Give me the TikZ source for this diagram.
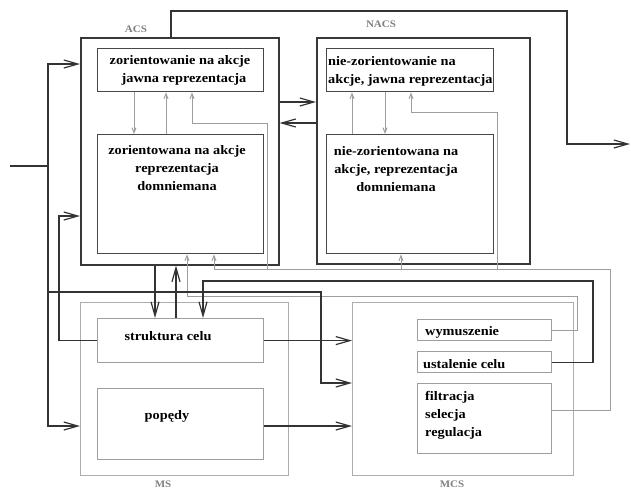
\documentclass[tikz,border=0pt]{standalone}
\usepackage{fontspec}
\setmainfont{Liberation Serif}[FakeStretch=1.1]
\usetikzlibrary{arrows.meta}
\begin{document}
\begin{tikzpicture}[x=1pt,y=-1pt,
  outer/.style={draw=black!78, line width=1.6pt, inner sep=0pt, anchor=north west},
  inbox/.style={draw=black!72, line width=1.4pt, inner sep=0pt, anchor=north west},
  gbox/.style={draw=black!32, line width=1.3pt, inner sep=0pt, anchor=north west},
  ginbox/.style={draw=black!38, line width=1.2pt, inner sep=0pt, anchor=north west},
  blk/.style={draw=black!80, line width=1.2pt},
  gry/.style={draw=black!38, line width=1pt},
  bigarrow/.style={-{Straight Barb[length=14pt,width=8pt]}},
  smallarrow/.style={-{Straight Barb[length=5pt,width=4pt]}},
  txt/.style={font=\fontsize{13}{18}\selectfont\bfseries, inner sep=0pt},
  lbl/.style={font=\fontsize{10}{12}\selectfont\bfseries, text=black!50, inner sep=0pt, anchor=base}
]
\useasboundingbox (0,0) rectangle (631,490);

% boxes
\node[outer, minimum width=198pt, minimum height=227pt] (ACS) at (80,37) {};
\node[inbox, minimum width=166pt, minimum height=43pt] (acs1) at (97,48) {};
\node[inbox, minimum width=166pt, minimum height=119pt] (acs2) at (97,134) {};
\node[outer, minimum width=213pt, minimum height=226pt] (NACS) at (316,37) {};
\node[inbox, minimum width=167pt, minimum height=43pt] (nacs1) at (326,48) {};
\node[inbox, minimum width=167pt, minimum height=119pt] (nacs2) at (326,134) {};
\node[gbox, minimum width=208pt, minimum height=173pt] (MS) at (80,302) {};
\node[ginbox, minimum width=166pt, minimum height=44pt] (sc) at (97,318) {};
\node[ginbox, minimum width=166pt, minimum height=71pt] (pop) at (97,388) {};
\node[gbox, minimum width=221pt, minimum height=173pt] (MCS) at (352,302) {};
\node[ginbox, minimum width=134pt, minimum height=21pt] (wym) at (417,319) {};
\node[ginbox, minimum width=134pt, minimum height=21pt] (ust) at (417,351) {};
\node[ginbox, minimum width=134pt, minimum height=70pt] (fil) at (417,383) {};

% labels
\node[lbl] (lacs) at (136,32) {ACS};
\node[lbl] (lnacs) at (381,27) {NACS};
\node[lbl] (lms) at (163,487.5) {MS};
\node[lbl] (lmcs) at (452,487.5) {MCS};

% texts
\node[txt, align=center, anchor=north] (tacs1) at (180,55) {zorientowanie na akcje\\ \hspace*{8pt}jawna reprezentacja};
\node[txt, align=center, anchor=north] (tacs2) at (177,145) {zorientowana na akcje\\ reprezentacja\\ domniemana};
\node[txt, align=left, anchor=north west] (tnacs1) at (328,56) {nie-zorientowanie na\\ akcje, jawna reprezentacja};
\node[txt, align=center, anchor=north] (tnacs2) at (396,146) {nie-zorientowana na\\ akcje, reprezentacja\\ domniemana};
\node[txt, anchor=base] (tsc) at (168,340) {struktura celu};
\node[txt, anchor=base] (tpop) at (167,419) {popędy};
\node[txt, anchor=base west] (twym) at (425,335) {wymuszenie};
\node[txt, anchor=base west] (tust) at (423,368) {ustalenie celu};
\node[txt, align=left, anchor=north west] (tfil) at (425,391) {filtracja\\ selecja\\ regulacja};

% helper coordinates
\coordinate (x134) at (134,0);
\coordinate (x166) at (166,0);
\coordinate (x192) at (192,0);
\coordinate (x352) at (352,0);
\coordinate (x385) at (385,0);
\coordinate (x411) at (411,0);
\coordinate (x187) at (187,0);
\coordinate (x214) at (214,0);
\coordinate (x401) at (401,0);
\coordinate (x155) at (155,0);
\coordinate (x176) at (176,0);
\coordinate (x203) at (203,0);

% gray connectors
\draw[gry,smallarrow] (x134 |- acs1.south) -- (x134 |- acs2.north);
\draw[gry,smallarrow] (x166 |- acs2.north) -- (x166 |- acs1.south);
\coordinate (g3a) at (267,269);
\coordinate (g3b) at (267,123);
\draw[gry,smallarrow] (g3a) -- (g3b) -- (x192 |- g3b) -- (x192 |- acs1.south);
\draw[gry,smallarrow] (x352 |- nacs2.north) -- (x352 |- nacs1.south);
\draw[gry,smallarrow] (x385 |- nacs1.south) -- (x385 |- nacs2.north);
\coordinate (g6a) at (497,269);
\coordinate (g6b) at (497,112);
\draw[gry,smallarrow] (g6a) -- (g6b) -- (x411 |- g6b) -- (x411 |- nacs1.south);
\coordinate (k0) at (0,410);
\coordinate (k1) at (610,410);
\coordinate (k2) at (610,269);
\draw[gry,smallarrow] (k0 -| fil.east) -- (k1) -- (k2) -- (x214 |- k2) -- (x214 |- acs2.south);
\draw[gry,smallarrow] (x401 |- k2) -- (x401 |- nacs2.south);
\coordinate (w1) at (577,296);
\draw[gry,smallarrow] (wym.east) -| (w1) -- (x187 |- w1) -- (x187 |- acs2.south);

% dark connectors
\coordinate (in) at (10,166);
\coordinate (j0) at (48,166);
\coordinate (jt) at (48,64);
\coordinate (jb) at (48,426);
\coordinate (jm) at (48,292);
\draw[blk] (in) -- (j0);
\draw[blk,bigarrow] (j0) -- (jt) -- (jt -| ACS.west);
\draw[blk,bigarrow] (j0) -- (jb) -- (jb -| MS.west);
\coordinate (c1) at (321,292);
\coordinate (c2) at (321,383);
\draw[blk,bigarrow] (jm) -- (c1) -- (c2) -- (c2 -| MCS.west);
\coordinate (d2) at (59,216);
\draw[blk,bigarrow] (sc.west) -| (d2) -- (d2 -| ACS.west);
\draw[blk,bigarrow] (x155 |- ACS.south) -- (x155 |- sc.north);
\draw[blk,bigarrow] (x176 |- sc.north) -- (x176 |- ACS.south);
\coordinate (f1) at (593,281);
\draw[blk,bigarrow] (ust.east) -| (f1) -- (x203 |- f1) -- (x203 |- sc.north);
\coordinate (t1) at (171,11);
\coordinate (t2) at (567,11);
\coordinate (t3) at (567,144);
\coordinate (out) at (630,144);
\draw[blk,bigarrow] (t1 |- ACS.north) -- (t1) -- (t2) -- (t3) -- (out);
\coordinate (h1) at (0,102);
\coordinate (h2) at (0,123);
\draw[blk,bigarrow] (h1 -| ACS.east) -- (h1 -| NACS.west);
\draw[blk,bigarrow] (h2 -| NACS.west) -- (h2 -| ACS.east);
\draw[blk,bigarrow] (sc.east) -- (sc.east -| MCS.west);
\draw[blk,bigarrow] (jb -| pop.east) -- (jb -| MCS.west);
\end{tikzpicture}
\end{document}
